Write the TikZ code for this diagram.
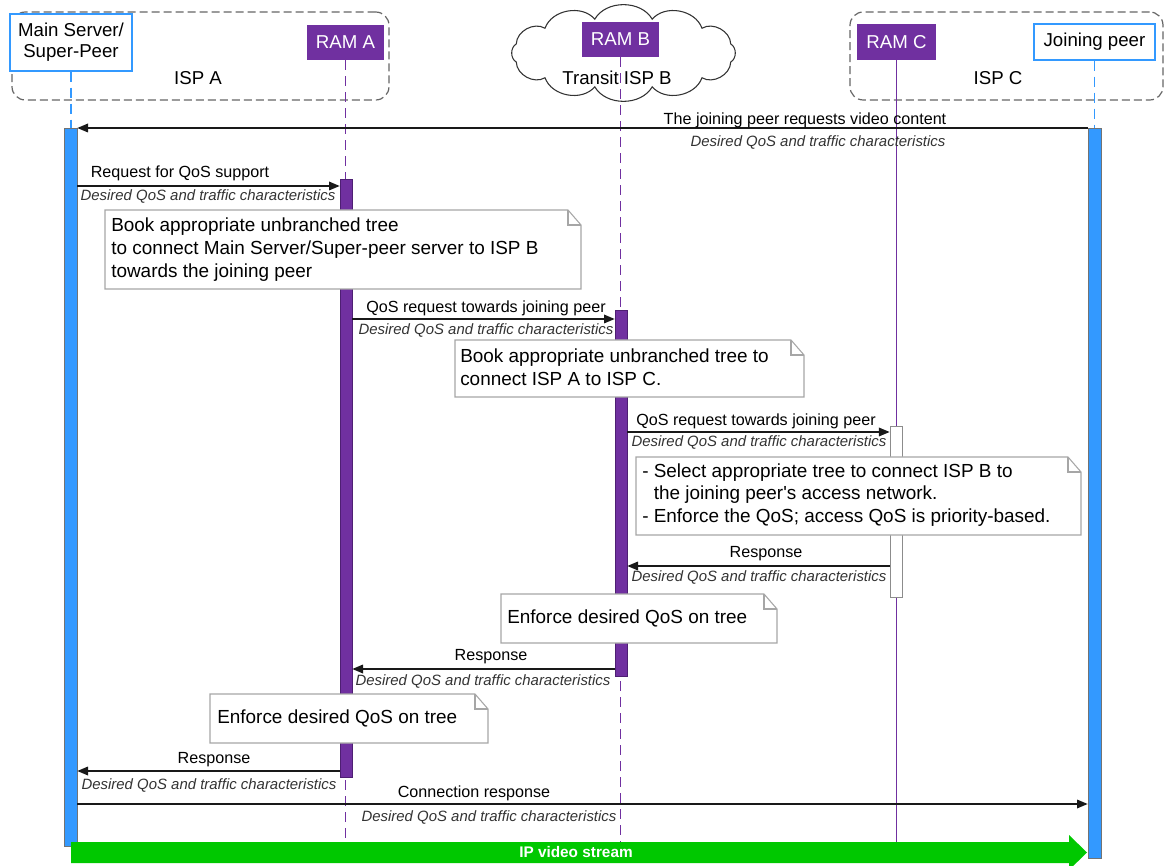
\documentclass[tikz,border=0pt]{standalone}
\usepackage{fontspec}
\setmainfont{Liberation Sans}[Ligatures=TeXOff]
\usetikzlibrary{arrows.meta}

\definecolor{ramviolet}{HTML}{7030A0}
\definecolor{ramedge}{HTML}{4E1F73}
\definecolor{peerblue}{HTML}{3399FF}
\definecolor{streamgreen}{HTML}{00C800}
\definecolor{ispgray}{HTML}{666666}
\definecolor{notegray}{HTML}{A6A6A6}
\definecolor{labelgray}{HTML}{333333}

\tikzset{
  entity/.style={inner sep=0pt, align=center, font=\fontsize{14}{16}\selectfont},
  peerbox/.style={entity, draw=peerblue, line width=1.1pt, fill=white},
  rambox/.style={entity, fill=ramviolet, text=white},
  ispbox/.style={draw=ispgray, line width=0.9pt, dash pattern=on 6pt off 3pt, rounded corners=10pt},
  isplabel/.style={inner sep=0pt, font=\fontsize{14}{16}\selectfont},
  cloudline/.style={draw=black!80, line width=0.8pt, fill=white},
  peerline/.style={draw=peerblue, line width=1pt, dash pattern=on 7.5pt off 4.5pt},
  ramline/.style={draw=ramviolet, line width=1.1pt, dash pattern=on 7.5pt off 4.5pt},
  peerbar/.style={draw=black!55, fill=peerblue, line width=0.5pt, inner sep=0pt},
  rambar/.style={draw=ramedge, fill=ramviolet, line width=0.5pt, inner sep=0pt},
  idlebar/.style={draw=black!45, fill=white, line width=0.6pt, inner sep=0pt},
  msg/.style={draw=black!90, line width=0.9pt, -{Triangle[length=8pt,width=6.5pt]}},
  msglabel/.style={inner sep=0pt, font=\fontsize{12.1}{14}\selectfont},
  qos/.style={inner sep=0pt, text=labelgray, font=\fontsize{11.2}{13}\selectfont\itshape},
  notebox/.style={draw=notegray, line width=0.8pt, fill=white},
  notetext/.style={inner sep=0pt, align=left, anchor=west, font=\fontsize{14.2}{17}\selectfont},
}

% note with a folded top-right corner: left, top, right, bottom
\newcommand{\foldnote}[4]{%
  \draw[notebox] (#1,#2) -- ({#3-13},#2) -- (#3,{#2+15}) -- (#3,#4) -- (#1,#4) -- cycle;
  \draw[notebox, fill=none] ({#3-13},#2) -- ({#3-13},{#2+15}) -- (#3,{#2+15});
}

\begin{document}
\begin{tikzpicture}[x=0.75pt, y=-0.75pt]
\useasboundingbox (0,0) rectangle (1165,866);
\clip (0,0) rectangle (1165,866);
\fill[white] (0,0) rectangle (1165,866);

% administrative domains
\node[ispbox, minimum width=282.75pt, minimum height=66pt] (ispA) at (200.5,56) {};
\node[isplabel] (ispAlbl) at (198,78) {ISP A};
\node[ispbox, minimum width=234.75pt, minimum height=66pt] (ispC) at (1006.5,56) {};
\node[isplabel] (ispClbl) at (998,78) {ISP C};

% transit cloud: puffs between points on an ellipse
\foreach \i in {0,...,12}
  \coordinate (cl\i) at ({623.5+111*cos(15+30*\i)},{53+35*sin(15+30*\i)});
\draw[cloudline] (cl0) \foreach \i in {1,...,12} { to[bend left=60] (cl\i) } -- cycle;
\node[isplabel] (ispBlbl) at (617,78) {Transit ISP B};

% participants
\node[peerbox, minimum width=91.5pt, minimum height=42.75pt] (ms) at (71,42.5) {Main Server/\\Super-Peer};
\node[rambox, minimum width=57.75pt, minimum height=26.25pt] (ramA) at (345.5,42.5) {RAM A};
\node[rambox, minimum width=57.75pt, minimum height=26.25pt] (ramB) at (620.5,39.5) {RAM B};
\node[rambox, minimum width=59.25pt, minimum height=27pt] (ramC) at (896.5,42) {RAM C};
\node[peerbox, minimum width=90.75pt, minimum height=27pt] (jp) at (1094.5,42) {Joining peer};

% lifelines
\coordinate (top) at (0,128);
\coordinate (lifeEnd) at (0,850);
\draw[peerline] (ms.south) -- (ms.south |- top);
\draw[peerline] (jp.south) -- (jp.south |- top);
\draw[ramline] (ramA.south) -- (ramA.south |- lifeEnd);
\draw[ramline] (ramB.south) -- (ramB.south |- lifeEnd);
\draw[draw=ramviolet, line width=1.1pt] (ramC.south) -- (ramC.south |- lifeEnd);

% activation bars
\node[peerbar, minimum width=9.75pt, minimum height=538.5pt] (msbar) at (70.5,487) {};
\node[peerbar, minimum width=9.75pt, minimum height=547.5pt] (jpbar) at (1094.5,493) {};
\node[rambar, minimum width=9pt, minimum height=448.5pt] (rabar) at (346,478) {};
\node[rambar, minimum width=9pt, minimum height=274.5pt] (rbbar) at (621,493) {};
\node[idlebar, minimum width=9pt, minimum height=128.25pt] (rcbar) at (896,511.5) {};

% messages
\draw[msg] (jpbar.west |- 0,128) -- (msbar.east |- 0,128);
\node[msglabel] (m1lbl) at (805,120) {The joining peer requests video content};
\node[qos] (m1qos) at (818,143) {Desired QoS and traffic characteristics};

\draw[msg] (msbar.east |- 0,186) -- (rabar.west |- 0,186);
\node[msglabel] (m2lbl) at (180,173) {Request for QoS support};
\node[qos] (m2qos) at (208,197) {Desired QoS and traffic characteristics};

\draw[msg] (rabar.east |- 0,319) -- (rbbar.west |- 0,319);
\node[msglabel] (m3lbl) at (486,308) {QoS request towards joining peer};
\node[qos] (m3qos) at (486,331) {Desired QoS and traffic characteristics};

\draw[msg] (rbbar.east |- 0,432) -- (rcbar.west |- 0,432);
\node[msglabel] (m4lbl) at (756,421) {QoS request towards joining peer};
\node[qos] (m4qos) at (759,443) {Desired QoS and traffic characteristics};

\draw[msg] (rcbar.west |- 0,566) -- (rbbar.east |- 0,566);
\node[msglabel] (m5lbl) at (766,554) {Response};
\node[qos] (m5qos) at (759,578) {Desired QoS and traffic characteristics};

\draw[msg] (rbbar.west |- 0,669) -- (rabar.east |- 0,669);
\node[msglabel] (m6lbl) at (491,657) {Response};
\node[qos] (m6qos) at (483,681) {Desired QoS and traffic characteristics};

\draw[msg] (rabar.west |- 0,771) -- (msbar.east |- 0,771);
\node[msglabel] (m7lbl) at (214,760) {Response};
\node[qos] (m7qos) at (209,785) {Desired QoS and traffic characteristics};

\draw[msg] (msbar.east |- 0,804) -- (jpbar.west |- 0,804);
\node[msglabel] (m8lbl) at (474,793) {Connection response};
\node[qos] (m8qos) at (489,817) {Desired QoS and traffic characteristics};

% notes
\foldnote{105}{210}{581}{289}
\node[notetext] (note1) at (111,249.5) {Book appropriate unbranched tree\\to connect Main Server/Super-peer server to ISP B\\towards the joining peer};
\foldnote{455}{340}{804}{397}
\node[notetext] (note2) at (460,367.5) {Book appropriate unbranched tree to\\connect ISP A to ISP C.};
\foldnote{636}{457}{1081}{535}
\node[notetext] (note3) at (642,495) {- Select appropriate tree to connect ISP B to\\\phantom{- }the joining peer's access network.\\- Enforce the QoS; access QoS is priority-based.};
\foldnote{501}{594}{777}{643}
\node[notetext] (note4) at (507,618) {Enforce desired QoS on tree};
\foldnote{210}{694}{488}{743}
\node[notetext] (note5) at (217,718) {Enforce desired QoS on tree};

% media stream
\fill[streamgreen] (71,842) -- (1069,842) -- (1069,835) -- (1087,852.5) -- (1069,870) -- (1069,863) -- (71,863) -- cycle;
\node[inner sep=0pt, text=white, font=\fontsize{11.5}{13}\selectfont\bfseries] (stream) at (576,852.5) {IP video stream};
\end{tikzpicture}
\end{document}
